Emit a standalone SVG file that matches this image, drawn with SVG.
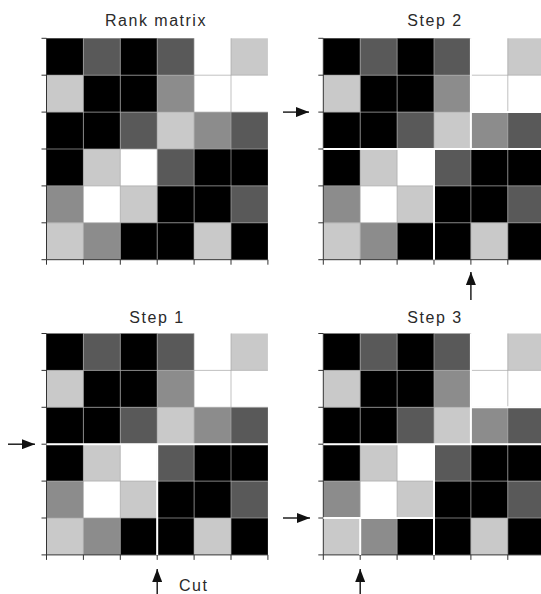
<svg xmlns="http://www.w3.org/2000/svg" xmlns:xlink="http://www.w3.org/1999/xlink" width="541" height="594" viewBox="0 0 541 594">
<style>
.K{fill:#000}.D{fill:#595959}.M{fill:#8c8c8c}.L{fill:#c9c9c9}.W{fill:#fff}
.grid{stroke:#a6a6a6;stroke-width:0.7;fill:none}
.axis{stroke:#333;stroke-width:1;fill:none}
.cut{stroke:#fff;stroke-width:2;fill:none}
.title{font-family:"Liberation Sans",Arial,sans-serif;font-size:16px;letter-spacing:1.5px;fill:#2a2a2a;text-anchor:middle}
.lbl{font-family:"Liberation Sans",Arial,sans-serif;font-size:16px;letter-spacing:1.5px;fill:#2a2a2a}
.arr{stroke:#111;stroke-width:1.4;fill:none;marker-end:url(#ah)}
</style>
<defs>
<marker id="ah" markerUnits="userSpaceOnUse" markerWidth="13" markerHeight="10" refX="13" refY="5" orient="auto">
<path d="M0,0 L13,5 L0,10 z" fill="#111"/>
</marker>
<g id="matrix">
<rect class="K" x="0" y="0" width="36.9" height="36.9"/><rect class="D" x="36.9" y="0" width="36.9" height="36.9"/><rect class="K" x="73.8" y="0" width="36.9" height="36.9"/><rect class="D" x="110.7" y="0" width="36.9" height="36.9"/><rect class="W" x="147.6" y="0" width="36.9" height="36.9"/><rect class="L" x="184.5" y="0" width="36.9" height="36.9"/>
<rect class="L" x="0" y="36.9" width="36.9" height="36.9"/><rect class="K" x="36.9" y="36.9" width="36.9" height="36.9"/><rect class="K" x="73.8" y="36.9" width="36.9" height="36.9"/><rect class="M" x="110.7" y="36.9" width="36.9" height="36.9"/><rect class="W" x="147.6" y="36.9" width="36.9" height="36.9"/><rect class="W" x="184.5" y="36.9" width="36.9" height="36.9"/>
<rect class="K" x="0" y="73.8" width="36.9" height="36.9"/><rect class="K" x="36.9" y="73.8" width="36.9" height="36.9"/><rect class="D" x="73.8" y="73.8" width="36.9" height="36.9"/><rect class="L" x="110.7" y="73.8" width="36.9" height="36.9"/><rect class="M" x="147.6" y="73.8" width="36.9" height="36.9"/><rect class="D" x="184.5" y="73.8" width="36.9" height="36.9"/>
<rect class="K" x="0" y="110.7" width="36.9" height="36.9"/><rect class="L" x="36.9" y="110.7" width="36.9" height="36.9"/><rect class="W" x="73.8" y="110.7" width="36.9" height="36.9"/><rect class="D" x="110.7" y="110.7" width="36.9" height="36.9"/><rect class="K" x="147.6" y="110.7" width="36.9" height="36.9"/><rect class="K" x="184.5" y="110.7" width="36.9" height="36.9"/>
<rect class="M" x="0" y="147.6" width="36.9" height="36.9"/><rect class="W" x="36.9" y="147.6" width="36.9" height="36.9"/><rect class="L" x="73.8" y="147.6" width="36.9" height="36.9"/><rect class="K" x="110.7" y="147.6" width="36.9" height="36.9"/><rect class="K" x="147.6" y="147.6" width="36.9" height="36.9"/><rect class="D" x="184.5" y="147.6" width="36.9" height="36.9"/>
<rect class="L" x="0" y="184.5" width="36.9" height="36.9"/><rect class="M" x="36.9" y="184.5" width="36.9" height="36.9"/><rect class="K" x="73.8" y="184.5" width="36.9" height="36.9"/><rect class="K" x="110.7" y="184.5" width="36.9" height="36.9"/><rect class="L" x="147.6" y="184.5" width="36.9" height="36.9"/><rect class="K" x="184.5" y="184.5" width="36.9" height="36.9"/>
<path class="grid" d="M36.9,0V221.4M73.8,0V221.4M110.7,0V221.4M147.6,0V221.4M184.5,0V221.4M0,36.9H221.4M0,73.8H221.4M0,110.7H221.4M0,147.6H221.4M0,184.5H221.4"/>
<path class="axis" d="M0,0V221.4H221.4"/>
<path class="axis" d="M-5,0H0M-5,36.9H0M-5,73.8H0M-5,110.7H0M-5,147.6H0M-5,184.5H0M-5,221.4H0M0,221.4V226.4M36.9,221.4V226.4M73.8,221.4V226.4M110.7,221.4V226.4M147.6,221.4V226.4M184.5,221.4V226.4M221.4,221.4V226.4"/>
</g>
<path id="cuts1" d="M0,110.7H221.4M110.7,110.7V221.4"/>
<path id="cuts2" d="M147.6,0V110.7M147.6,73.8H221.4"/>
<path id="cuts3" d="M0,184.5H110.7M36.9,184.5V221.4"/>
</defs>

<g id="rank-matrix">
<text class="title" x="156" y="26">Rank matrix</text>
<use xlink:href="#matrix" href="#matrix" transform="translate(46.5,38.3)"/>
</g>

<g id="step-2">
<text class="title" x="435" y="26">Step 2</text>
<g transform="translate(323.3,38.3)">
<use xlink:href="#matrix" href="#matrix"/>
<use class="cut" xlink:href="#cuts1" href="#cuts1"/>
<use class="cut" xlink:href="#cuts2" href="#cuts2"/>
</g>
</g>

<g id="step-1">
<text class="title" x="157" y="323">Step 1</text>
<g transform="translate(46.5,333.5)">
<use xlink:href="#matrix" href="#matrix"/>
<use class="cut" xlink:href="#cuts1" href="#cuts1"/>
</g>
</g>

<g id="step-3">
<text class="title" x="435" y="323">Step 3</text>
<g transform="translate(323.3,333.5)">
<use xlink:href="#matrix" href="#matrix"/>
<use class="cut" xlink:href="#cuts1" href="#cuts1"/>
<use class="cut" xlink:href="#cuts2" href="#cuts2"/>
<use class="cut" xlink:href="#cuts3" href="#cuts3"/>
</g>
</g>

<g id="connectors">
<line class="arr" x1="8" y1="444.2" x2="35" y2="444.2"/>
<line class="arr" x1="157.2" y1="594" x2="157.2" y2="569"/>
<line class="arr" x1="283" y1="112.1" x2="309" y2="112.1"/>
<line class="arr" x1="470.9" y1="300" x2="470.9" y2="272"/>
<line class="arr" x1="283" y1="518" x2="310" y2="518"/>
<line class="arr" x1="360.2" y1="594" x2="360.2" y2="569"/>
</g>

<text class="lbl" x="179" y="591">Cut</text>
</svg>
